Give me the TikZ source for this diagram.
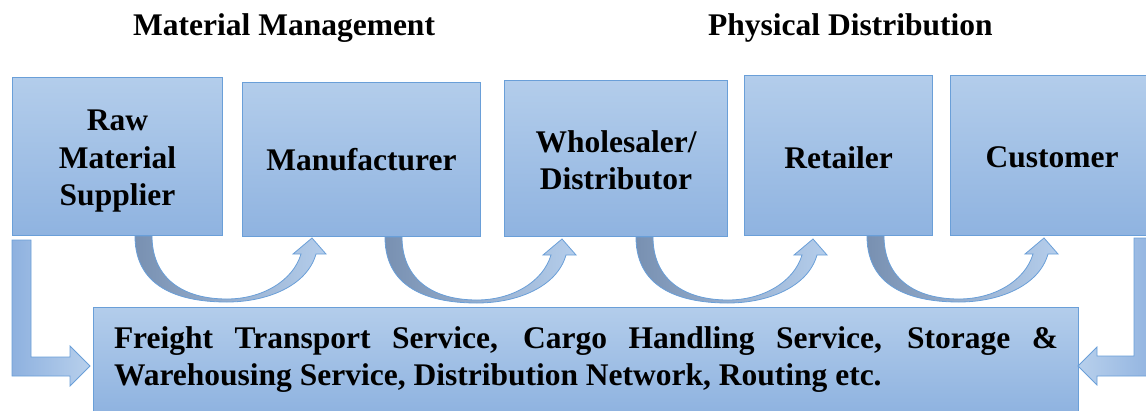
\documentclass[tikz,border=0pt]{standalone}
\usepackage{fontspec}
\setmainfont{Liberation Serif}
\usetikzlibrary{calc}
\definecolor{bd}{HTML}{6A9FD8}
\definecolor{btop}{HTML}{B3CDEB}
\definecolor{bbot}{HTML}{8FB3E0}
\definecolor{adark}{HTML}{7890B1}
\definecolor{alight}{HTML}{B5CEEC}
\definecolor{ldark}{HTML}{8EB1DF}
\definecolor{llight}{HTML}{B8D0EC}
\begin{document}
\begin{tikzpicture}[x=1pt,y=-1pt,
  bigfont/.style={font=\fontsize{31.5}{37.5}\selectfont\bfseries},
  box/.style={draw=bd, line width=1pt, top color=btop, bottom color=bbot,
    inner sep=0pt, anchor=north west, align=center, bigfont},
  boxtext/.style={inner sep=0pt, align=center, bigfont},
  title/.style={anchor=base west, inner sep=0pt, bigfont},
  curvarr/.pic={
    \path[draw=bd, line width=0.8pt, left color=adark, right color=alight]
      (0,0) .. controls (0,55) and (50,66) .. (92,66)
      .. controls (132,66) and (172,50) .. (181,18)
      -- (191,18) -- (177,2) -- (158,18) -- (166,18)
      .. controls (158,45) and (127,63) .. (92,63)
      .. controls (45,63) and (17,40) .. (17,0) -- cycle;
  },
  larrow/.style={draw=bd, line width=0.8pt}
]
\useasboundingbox (0,0) rectangle (1146,410);
\clip (0,0) rectangle (1146,410);

\node[title] (mm) at (133,35) {Material Management};
\node[title] (pd) at (708,35) {Physical Distribution};

\node[box, minimum width=210pt, minimum height=158pt] (raw) at (12,77) {};
\node[boxtext] (rawt) at ($(raw.center)+(0,5)$) {Raw\\Material\\Supplier};
\node[box, minimum width=238pt, minimum height=154pt] (manu) at (242,82) {};
\node[boxtext] (manut) at ($(manu.center)+(0,0)$) {Manufacturer};
\node[box, minimum width=223pt, minimum height=156pt] (whole) at (504,80) {};
\node[boxtext] (wholet) at ($(whole.center)+(0,2)$) {Wholesaler/\\Distributor};
\node[box, minimum width=188pt, minimum height=160pt] (retail) at (744,75) {};
\node[boxtext] (retailt) at ($(retail.center)+(0,2)$) {Retailer};
\node[box, minimum width=203pt, minimum height=160pt] (cust) at (950,75) {};
\node[boxtext] (custt) at ($(cust.center)+(0,2)$) {Customer};

\node[box, minimum width=985pt, minimum height=104pt, align=left] (serv) at (93,307)
  {\makebox[944pt][s]{Freight Transport Service, Cargo Handling Service, Storage \&}\\
   Warehousing Service, Distribution Network, Routing etc.};

% curved arrows between stages
\pic at ($(raw.south west)+(123,0)$) {curvarr};
\pic at ($(manu.south west)+(143,0)$) {curvarr};
\pic at ($(whole.south west)+(132,0)$) {curvarr};
\pic at ($(retail.south west)+(123,0)$) {curvarr};

% L-shaped arrows into the service box
\path[larrow, left color=ldark, right color=llight]
  (12,240) -- (31,240) -- (31,357) -- (70,357) -- (70,346) -- (90,366)
  -- (70,386) -- (70,376) -- (12,376) -- cycle;
\path[larrow, left color=llight, right color=ldark]
  (1134,238) -- (1160,238) -- (1160,376) -- (1097,376) -- (1097,385)
  -- (1078,366) -- (1097,347) -- (1097,356) -- (1134,356) -- cycle;
\end{tikzpicture}
\end{document}
